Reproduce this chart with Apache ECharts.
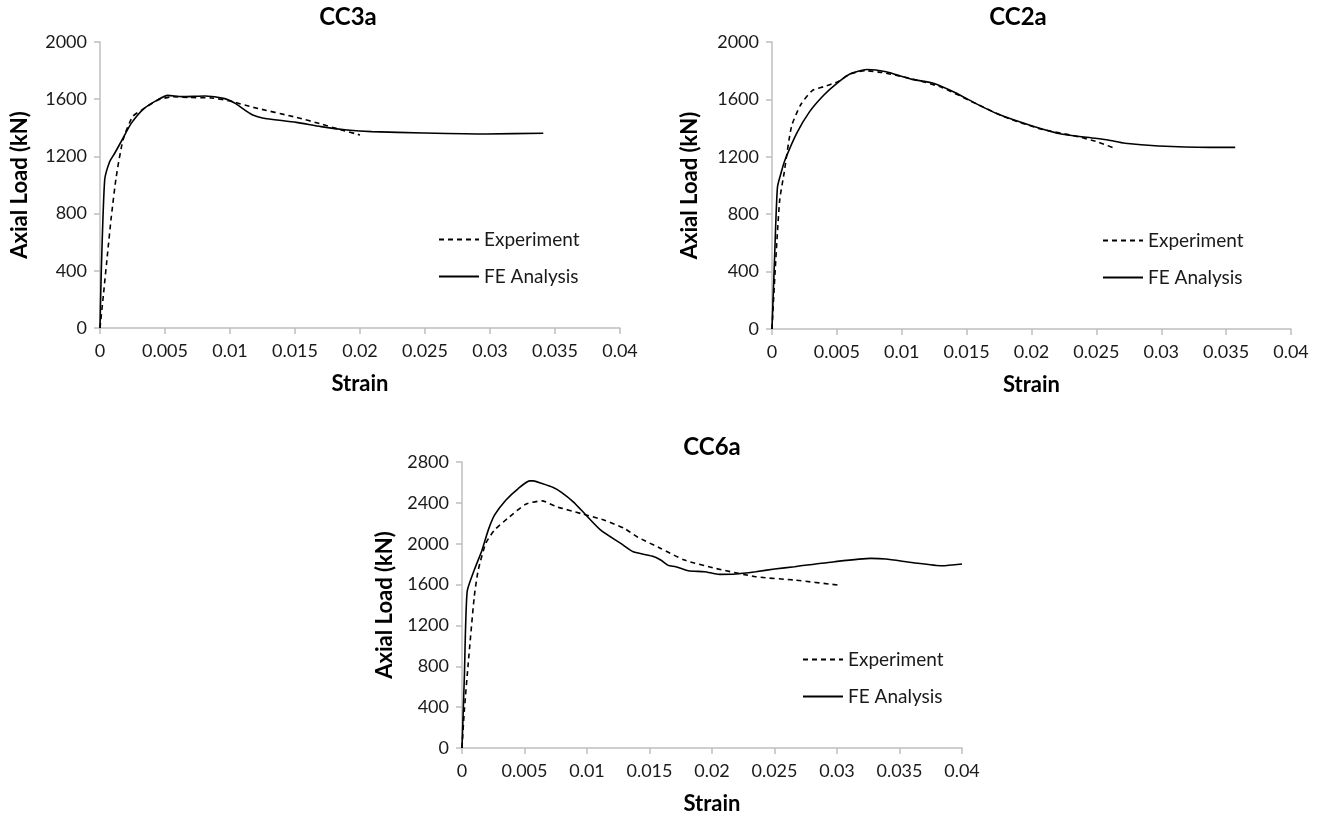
<!DOCTYPE html>
<html>
<head>
<meta charset="utf-8">
<script src="https://cdn.jsdelivr.net/npm/echarts@6/dist/echarts.min.js"></script>
<style>
  html, body { margin: 0; padding: 0; background: #fff; }
  #main { width: 1322px; height: 818px; }
</style>
</head>
<body>
<div id="main"></div>
<script>
// CC3a
const cc3aFeStrain = [0, 0.0001, 0.00036, 0.00074, 0.00113, 0.00177, 0.0024, 0.0034, 0.0045, 0.0052, 0.0063, 0.0081, 0.0096, 0.0104, 0.0112, 0.0118, 0.0125, 0.0151, 0.017, 0.019, 0.0209, 0.0249, 0.0297, 0.0341]
const cc3aFeLoad = [0, 400, 1035, 1163, 1222, 1327, 1431, 1536, 1599, 1627, 1618, 1622, 1604, 1571, 1520, 1487, 1469, 1438, 1408, 1385, 1373, 1364, 1357, 1362]
const cc3aExpStrain = [0, 0.00026, 0.00059, 0.00087, 0.00125, 0.00177, 0.0025, 0.0032, 0.0045, 0.0056, 0.0069, 0.0086, 0.0099, 0.0118, 0.0151, 0.017, 0.0183, 0.02]
const cc3aExpLoad = [0, 230, 530, 778, 1058, 1315, 1478, 1524, 1596, 1617, 1612, 1608, 1589, 1543, 1473, 1427, 1392, 1350]

// CC2a
const cc2aFeStrain = [0, 0.0002, 0.00042, 0.00075, 0.001, 0.0019, 0.0029, 0.004, 0.005, 0.006, 0.0073, 0.0088, 0.0101, 0.0109, 0.0125, 0.0141, 0.0158, 0.0174, 0.02, 0.0223, 0.0249, 0.0259, 0.0272, 0.0298, 0.0337, 0.0357]
const cc2aFeLoad = [0, 500, 988, 1104, 1178, 1364, 1515, 1631, 1712, 1777, 1808, 1793, 1758, 1738, 1711, 1648, 1567, 1498, 1417, 1359, 1329, 1317, 1294, 1275, 1266, 1266]
const cc2aExpStrain = [0, 0.00026, 0.00059, 0.00092, 0.0015, 0.0022, 0.0031, 0.004, 0.0051, 0.006, 0.0072, 0.0085, 0.0109, 0.0131, 0.0158, 0.018, 0.0207, 0.0233, 0.0252, 0.0265]
const cc2aExpLoad = [0, 433, 896, 1080, 1410, 1561, 1661, 1689, 1724, 1777, 1800, 1787, 1741, 1683, 1567, 1475, 1394, 1347, 1301, 1255]

// CC6a
const cc6aFeStrain = [0, 0.00019, 0.00041, 0.00098, 0.0016, 0.0021, 0.0026, 0.0035, 0.0045, 0.0054, 0.0057, 0.0064, 0.0073, 0.0079, 0.0089, 0.0098, 0.0111, 0.0127, 0.0137, 0.0152, 0.0159, 0.0165, 0.0171, 0.0181, 0.0194, 0.0206, 0.0219, 0.0235, 0.025, 0.0266, 0.0298, 0.0327, 0.0339, 0.0361, 0.0384, 0.04]
const cc6aFeLoad = [0, 700, 1530, 1742, 1937, 2133, 2279, 2426, 2540, 2615, 2615, 2589, 2550, 2507, 2410, 2296, 2133, 2003, 1921, 1879, 1840, 1788, 1775, 1735, 1726, 1700, 1703, 1726, 1752, 1775, 1824, 1856, 1850, 1814, 1784, 1801]
const cc6aExpStrain = [0, 0.00019, 0.0005, 0.00098, 0.0013, 0.0019, 0.0026, 0.0038, 0.0051, 0.0064, 0.0076, 0.0095, 0.0114, 0.013, 0.014, 0.0159, 0.0178, 0.0203, 0.0235, 0.0266, 0.0301]
const cc6aExpLoad = [0, 374, 830, 1481, 1742, 2003, 2133, 2263, 2387, 2419, 2361, 2296, 2230, 2149, 2068, 1954, 1840, 1758, 1677, 1644, 1595]

const titles = ["CC3a", "CC2a", "CC6a"]
const seriesNames = ["Experiment", "FE Analysis"]
const yMax = [2000, 2000, 2800]

const font = "Lato, 'Open Sans', sans-serif"

function zip(xs, ys) {
  return xs.map((x, i) => [x, ys[i]])
}

// plot boxes
const boxes = [
  { left: 100, top: 42, width: 520, height: 286 },
  { left: 772, top: 42, width: 519, height: 287 },
  { left: 462, top: 462, width: 500, height: 286 },
]
const legendPos = [
  { left: 433, top: 225 },
  { left: 1097, top: 226 },
  { left: 797, top: 645 },
]
const titleX = [343, 1013, 707]
const titleY = [0, 0, 430]
const yNameGap = [69, 71, 66]

let myChart = echarts.init(document.getElementById("main"))

const grids = boxes.map((b) => ({ left: b.left, top: b.top, width: b.width, height: b.height, containLabel: false }))

const xAxes = boxes.map((b, i) => ({
  type: "value",
  gridIndex: i,
  min: 0,
  max: 0.04,
  interval: 0.005,
  name: "Strain",
  nameLocation: "middle",
  nameGap: 45,
  nameTextStyle: { color: "#000", fontSize: 22, fontWeight: "bold", fontFamily: font },
  axisLine: { show: true, lineStyle: { color: "#bfbfbf", width: 1.5 } },
  axisTick: { show: true, length: 6, lineStyle: { color: "#bfbfbf", width: 1.5 } },
  axisLabel: { color: "#1a1a1a", fontSize: 18, fontFamily: font, margin: 14 },
  splitLine: { show: false },
}))

const yAxes = boxes.map((b, i) => ({
  type: "value",
  gridIndex: i,
  min: 0,
  max: yMax[i],
  interval: 400,
  name: "Axial Load (kN)",
  nameLocation: "middle",
  nameGap: yNameGap[i],
  nameTextStyle: { color: "#000", fontSize: 22, fontWeight: "bold", fontFamily: font },
  axisLine: { show: true, lineStyle: { color: "#bfbfbf", width: 1.5 } },
  axisTick: { show: true, length: 6, lineStyle: { color: "#bfbfbf", width: 1.5 } },
  axisLabel: { color: "#1a1a1a", fontSize: 18, fontFamily: font, margin: 13, formatter: (v) => String(v) },
  splitLine: { show: false },
}))

const curves = [
  [zip(cc3aExpStrain, cc3aExpLoad), zip(cc3aFeStrain, cc3aFeLoad)],
  [zip(cc2aExpStrain, cc2aExpLoad), zip(cc2aFeStrain, cc2aFeLoad)],
  [zip(cc6aExpStrain, cc6aExpLoad), zip(cc6aFeStrain, cc6aFeLoad)],
]

const series = []
curves.forEach((pair, i) => {
  pair.forEach((pts, k) => {
    series.push({
      name: seriesNames[k],
      type: "line",
      xAxisIndex: i,
      yAxisIndex: i,
      data: pts,
      smooth: 0.2,
      showSymbol: false,
      symbol: "none",
      lineStyle: {
        color: "#000",
        width: 1.6,
        type: k === 0 ? [5, 4] : "solid",
      },
      itemStyle: { color: "#000" },
    })
  })
})

myChart.setOption({
  animation: false,
  title: titles.map((t, i) => ({
    text: t,
    left: titleX[i],
    top: titleY[i],
    textAlign: "center",
    textStyle: { color: "#000", fontSize: 24, fontWeight: "bold", fontFamily: font },
  })),
  legend: legendPos.map((p) => ({
    data: seriesNames,
    orient: "vertical",
    left: p.left,
    top: p.top,
    itemWidth: 40,
    itemHeight: 14,
    itemGap: 18,
    itemStyle: { opacity: 0 },
    textStyle: { color: "#1a1a1a", fontSize: 19, fontFamily: font },
    selectedMode: false,
  })),
  grid: grids,
  xAxis: xAxes,
  yAxis: yAxes,
  series: series,
})

window.addEventListener("resize", () => {
  myChart.resize()
})
</script>
</body>
</html>
